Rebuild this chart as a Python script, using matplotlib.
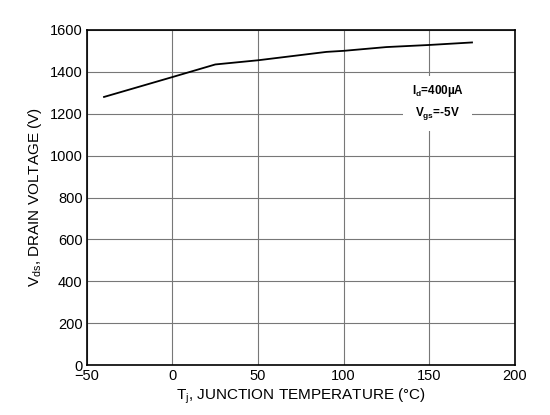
import numpy as np
import matplotlib.pyplot as plt

plt.rcParams['font.family'] = ['Liberation Sans', 'DejaVu Sans']

temp = [-40, 0, 25, 50, 90, 100, 125, 150, 175]
vds = [1280, 1375, 1435, 1455, 1495, 1500, 1518, 1528, 1540]

fig, ax = plt.subplots(figsize=(5.5, 4.15), dpi=100)
fig.subplots_adjust(left=0.158, right=0.936, top=0.928, bottom=0.12)

ax.plot(temp, vds, color='black', lw=1.3, zorder=3)

ax.set_xlim(-50, 200)
ax.set_ylim(0, 1600)
ax.set_xticks(np.arange(-50, 201, 50))
ax.set_yticks(np.arange(0, 1601, 200))
ax.grid(True, color='#777777', lw=0.8)
ax.tick_params(direction='in', length=0, labelsize=10.5, pad=3)
for s in ax.spines.values():
    s.set_linewidth(1.2)

ax.set_xlabel('T$_\\mathregular{j}$, JUNCTION TEMPERATURE (°C)', fontsize=11, labelpad=2)
ax.set_ylabel('V$_\\mathregular{ds}$, DRAIN VOLTAGE (V)', fontsize=11, labelpad=4)

ax.text(155, 1253, 'I$_\\mathregular{d}$=400µA\nV$_\\mathregular{gs}$=-5V',
        fontsize=8.5, fontweight='bold', ha='center', va='center', linespacing=1.6,
        bbox=dict(facecolor='white', edgecolor='none', pad=6), zorder=4)

fig.savefig('out.png')
